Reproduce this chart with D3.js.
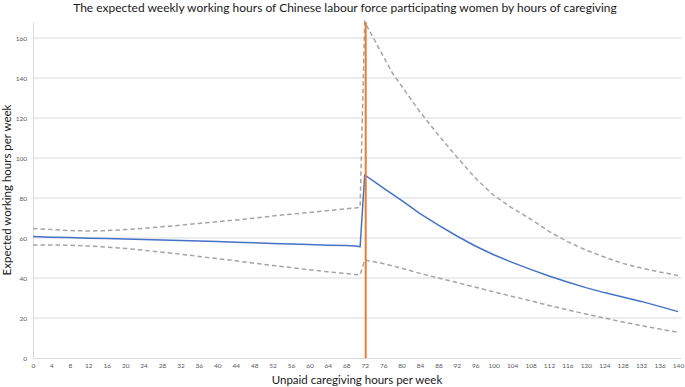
<!DOCTYPE html>
<html>
<head>
<meta charset="utf-8">
<script src="https://cdn.jsdelivr.net/npm/d3@7"></script>
<style>
  html, body { margin: 0; padding: 0; background: #fff; }
  svg { display: block; }
  text { font-family: Lato, "Open Sans", sans-serif; }
</style>
</head>
<body>
<svg id="chart" width="685" height="387"></svg>
<script>
// ---- data ----
const hours = [0,4,8,12,16,20,24,28,32,36,40,44,48,52,56,60,64,68,70,71,72,74,76,78,80,84,88,92,96,100,104,108,112,116,120,124,128,132,136,140];
const expected = [60.7,60.4,60.2,59.9,59.7,59.5,59.2,59.0,58.8,58.5,58.2,57.9,57.6,57.3,57.0,56.7,56.4,56.2,56.0,55.6,91.5,88.3,85.1,81.9,78.8,72.2,66.4,61.0,56.0,51.6,47.8,44.3,41.0,38.0,35.2,32.7,30.5,28.3,25.8,23.2];
const upperCI = [64.8,64.2,63.7,63.5,63.7,64.2,64.8,65.6,66.4,67.3,68.1,69.0,69.9,71.0,71.9,72.8,73.7,74.6,75.0,75.3,168,159.5,151,142.5,136,123,111.5,100.5,90,81.3,75,69.5,63.3,58.2,54,50.5,47.3,45,43,41.3];
const lowerCI = [56.5,56.5,56.4,56.0,55.4,54.8,53.9,52.9,51.9,50.8,49.7,48.6,47.4,46.3,45.2,44.1,43.1,42.2,41.7,41.5,49.0,48.1,47.2,46.1,44.9,42.3,40.0,37.7,35.4,33.1,30.8,28.6,26.3,24.1,22.0,20.0,18.0,16.2,14.5,12.9];
const thresholdHour = 72;
const yMax = 168;
const xTicks = d3.range(0, 141, 4);
const yTicks = [0,20,40,60,80,100,120,140,160];
const title = "The expected weekly working hours of Chinese labour force participating women by hours of caregiving";
const xTitle = "Unpaid caregiving hours per week";
const yTitle = "Expected working hours per week";

// ---- layout ----
const svg = d3.select("#chart");
const x = d3.scaleLinear().domain([0, 140]).range([33, 678]);
const y = d3.scaleLinear().domain([0, yMax]).range([358, 22]);

// gridlines
svg.append("g")
  .selectAll("line").data(yTicks.filter(d => d > 0)).join("line")
  .attr("x1", x(0)).attr("x2", 681)
  .attr("y1", d => y(d)).attr("y2", d => y(d))
  .attr("stroke", "#d9d9d9").attr("stroke-width", 1);

// axes
const yAxis = d3.axisLeft(y).tickValues(yTicks).tickSize(0).tickPadding(6);
const gy = svg.append("g").attr("transform", `translate(${x(0)},0)`).call(yAxis);
gy.select(".domain").attr("stroke", "#d9d9d9");
gy.selectAll("text").attr("fill", "#595959").style("font-size", "6.5px");

const xAxis = d3.axisBottom(x).tickValues(xTicks).tickSize(0).tickPadding(5);
const gx = svg.append("g").attr("transform", `translate(0,${y(0)})`).call(xAxis);
gx.select(".domain").attr("stroke", "#d9d9d9").attr("d", `M${x(0)},0.5H681`);
gx.selectAll("text").attr("fill", "#595959").style("font-size", "6.5px");

const rows = hours.map((h, i) => ({h, e: expected[i], u: upperCI[i], l: lowerCI[i]}));
const mk = key => d3.line().x(d => x(d.h)).y(d => y(d[key]));

svg.append("path").datum(rows).attr("d", mk("u"))
  .attr("fill", "none").attr("stroke", "#a5a5a5").attr("stroke-width", 1.5)
  .attr("stroke-dasharray", "4.5,3");
svg.append("path").datum(rows).attr("d", mk("l"))
  .attr("fill", "none").attr("stroke", "#a5a5a5").attr("stroke-width", 1.5)
  .attr("stroke-dasharray", "4.5,3");
svg.append("path").datum(rows).attr("d", mk("e"))
  .attr("fill", "none").attr("stroke", "#4472c4").attr("stroke-width", 1.5)
  .attr("stroke-linejoin", "round");

// threshold line
svg.append("line")
  .attr("x1", x(thresholdHour) + 1).attr("x2", x(thresholdHour) + 1)
  .attr("y1", y(0)).attr("y2", y(yMax))
  .attr("stroke", "#ed7d31").attr("stroke-width", 2);

// titles
svg.append("text").attr("x", 345).attr("y", 12).attr("text-anchor", "middle")
  .style("font-size", "12px").attr("fill", "#1a1a1a").text(title);
svg.append("text").attr("x", 357).attr("y", 384).attr("text-anchor", "middle")
  .style("font-size", "11.5px").attr("fill", "#1a1a1a").text(xTitle);
svg.append("text").attr("transform", "translate(11,190) rotate(-90)").attr("text-anchor", "middle")
  .style("font-size", "11.5px").attr("fill", "#1a1a1a").text(yTitle);
</script>
</body>
</html>
